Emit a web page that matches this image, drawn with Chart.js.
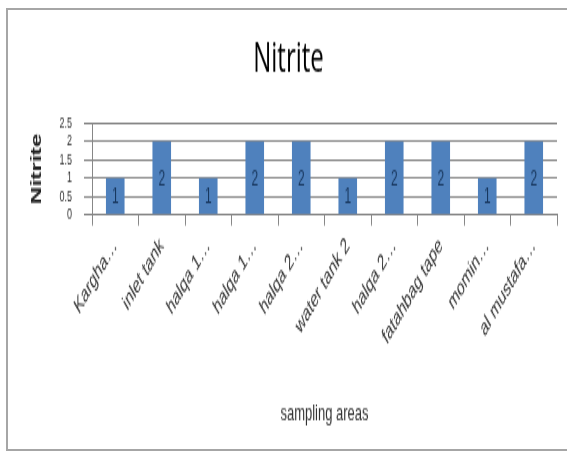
<!DOCTYPE html>
<html>
<head>
<meta charset="utf-8">
<script src="https://cdn.jsdelivr.net/npm/chart.js@4/dist/chart.umd.min.js"></script>
<style>
  html, body { margin: 0; padding: 0; background: #fff; width: 567px; height: 457px; overflow: hidden; }
  #frame { position: absolute; left: 6px; top: 8px; width: 580px; height: 443px; border: 2px solid #a6a6a6; box-sizing: border-box; }
  #wrap { position: absolute; left: 0; top: 0; width: 567px; height: 261px; transform: scaleY(1.751); transform-origin: 0 0; }
</style>
</head>
<body>
<div id="frame"></div>
<div id="wrap"><canvas id="c" width="567" height="261"></canvas></div>
<script>
const categories = ["Kargha…", "inlet tank", "halqa 1…", "halqa 1…", "halqa 2…", "water tank 2", "halqa 2…", "fatahbag tape", "momin…", "al mustafa…"];
const nitriteValues = [1, 2, 1, 2, 2, 1, 2, 2, 1, 2];
const yTickValues = [0, 0.5, 1, 1.5, 2, 2.5];

const barLabels = {
  id: 'barLabels',
  afterDatasetsDraw(chart) {
    const ctx = chart.ctx;
    const meta = chart.getDatasetMeta(0);
    ctx.save();
    ctx.font = '12px "Liberation Sans", Arial, sans-serif';
    ctx.fillStyle = '#17365d';
    ctx.textAlign = 'center';
    ctx.textBaseline = 'middle';
    meta.data.forEach((bar, i) => {
      ctx.fillText(String(chart.data.datasets[0].data[i]), bar.x, (bar.y + bar.base) / 2 + 1);
    });
    ctx.restore();
  }
};

new Chart(document.getElementById('c'), {
  type: 'bar',
  data: {
    labels: categories,
    datasets: [{
      label: 'Nitrite',
      data: nitriteValues,
      backgroundColor: '#4f81bd',
      borderWidth: 0,
      barPercentage: 0.4,
      categoryPercentage: 1.0
    }]
  },
  options: {
    responsive: false,
    animation: false,
    devicePixelRatio: 1,
    layout: { padding: { left: 20, right: 10, top: 0, bottom: 0 } },
    plugins: {
      legend: { display: false },
      tooltip: { enabled: false },
      title: {
        display: true,
        text: 'Nitrite',
        color: '#000',
        font: { family: '"Open Sans", sans-serif', size: 24, weight: 'normal' },
        padding: { top: 19.9, bottom: 21.5 }
      }
    },
    scales: {
      x: {
        grid: { display: true, drawOnChartArea: false, drawTicks: true, tickLength: 6, color: '#878787', offset: true },
        border: { display: true, color: '#878787' },
        ticks: {
          autoSkip: false, minRotation: 45, maxRotation: 45, padding: 4,
          color: '#333',
          font: { family: '"Liberation Sans", Arial, sans-serif', size: 13 }
        },
        title: {
          display: true, text: 'sampling areas', color: '#333',
          font: { family: '"Liberation Sans", Arial, sans-serif', size: 13 },
          padding: { top: 0, bottom: 17 }
        },
        afterFit(scale) { scale.height = 138.2; }
      },
      y: {
        min: 0, max: 2.5,
        afterBuildTicks(scale) { scale.ticks = yTickValues.map(v => ({ value: v })); },
        grid: { color: '#878787', lineWidth: 1, drawTicks: true, tickLength: 8 },
        border: { display: true, color: '#878787' },
        ticks: {
          autoSkip: false, padding: 12, color: '#333',
          callback: (v) => String(v),
          font: { family: '"Liberation Sans", Arial, sans-serif', size: 9 }
        },
        title: {
          display: true, text: 'Nitrite', color: '#222',
          font: { family: '"Liberation Sans", Arial, sans-serif', size: 14, weight: 'bold' },
          padding: { top: 8.6, bottom: 0 }
        },
        afterFit(scale) { scale.width = 72; }
      }
    }
  },
  plugins: [barLabels]
});
</script>
</body>
</html>
